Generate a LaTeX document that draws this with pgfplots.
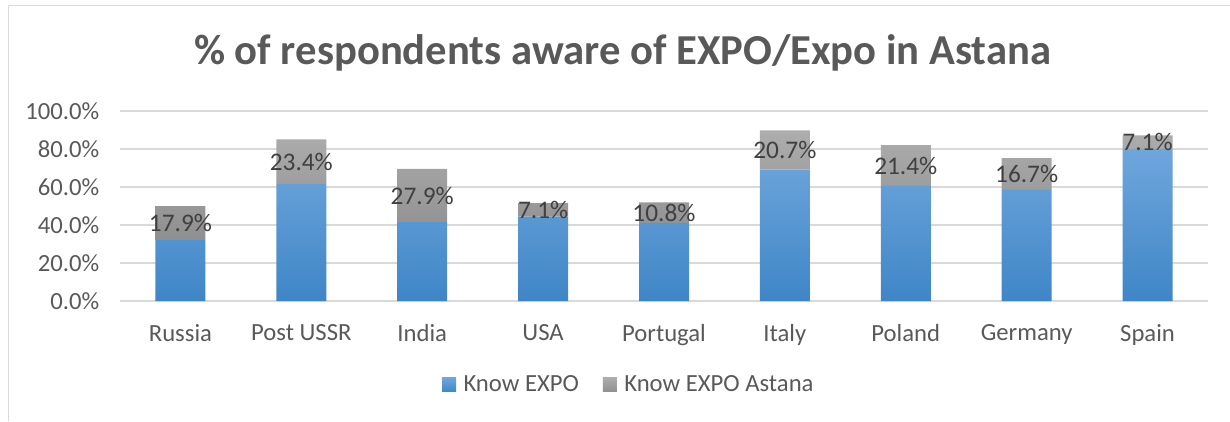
\documentclass[border=0pt]{standalone}
\usepackage{pgfplots}
\pgfplotsset{compat=1.18}
\usepackage{pgfplotstable}
\usepackage{fontspec}
\setmainfont{Carlito}
\definecolor{txt}{HTML}{595959}
\definecolor{gridc}{HTML}{D9D9D9}
\definecolor{bluetop}{HTML}{6FA6DC}
\definecolor{bluebot}{HTML}{3F86C7}
\definecolor{greytop}{HTML}{ADADAD}
\definecolor{greybot}{HTML}{8F8F8F}
\definecolor{lbl}{HTML}{404040}

\pgfplotstableread{
x blue grey
0 32.0 17.9
1 61.5 23.4
2 41.5 27.9
3 44.4 7.1
4 41.0 10.8
5 69.0 20.7
6 60.5 21.4
7 58.4 16.7
8 80.0 7.1
}\data

\pgfplotsset{common/.style={
  scale only axis, width=816pt, height=142.7pt,
  at={(90pt,90pt)}, anchor=south west,
  xmin=-0.5, xmax=8.5, ymin=0, ymax=100,
  /pgf/number format/assume math mode=true}}

\begin{document}
\begin{tikzpicture}
\useasboundingbox (0,0) rectangle (922.5pt,315.75pt);
\draw[gridc, line width=1.1pt] (6.4pt,0) -- (6.4pt,311.6pt) -- (922.5pt,311.6pt);
\node[font=\bfseries\fontsize{32}{38}\selectfont, text=txt] at (467pt,276pt) {\% of respondents aware of EXPO/Expo in Astana};
\begin{axis}[
  common,
  ybar stacked, bar width=37.5pt,
  axis line style={draw=none},
  tick style={draw=none},
  ymajorgrids, major grid style={gridc, line width=1.4pt},
  ytick={0,20,40,60,80,100},
  yticklabel={\pgfmathprintnumber[fixed,fixed zerofill,precision=1]{\tick}\%},
  xtick={0,1,2,3,4,5,6,7,8},
  xticklabels={Russia,Post USSR,India,USA,Portugal,Italy,Poland,Germany,Spain},
  ticklabel style={text=txt, font=\fontsize{18.5}{22}\selectfont},
  yticklabel style={xshift=-12pt},
  xticklabel style={yshift=-14pt},
  legend style={at={(0.468,-0.441)}, anchor=center, draw=none, fill=none,
    legend columns=2, font=\fontsize{18.5}{22}\selectfont, text=txt,
    /tikz/every even column/.append style={column sep=16pt}},
  legend image code/.code={\path[#1, draw=none] (0pt,-5.25pt) rectangle (10.5pt,5.25pt);
    \path (0pt,0pt) -- (14pt,0pt);},
]
\addplot[draw=none, top color=bluetop, bottom color=bluebot] table[x=x,y=blue]{\data};
\addlegendentry{Know EXPO}
\addplot[draw=none, top color=greytop, bottom color=greybot] table[x=x,y=grey]{\data};
\addlegendentry{Know EXPO Astana}
\end{axis}
\begin{axis}[common, hide axis]
\addplot[only marks, mark=none, point meta=explicit,
  nodes near coords={\pgfmathprintnumber[fixed,fixed zerofill,precision=1]{\pgfplotspointmeta}\%},
  every node near coord/.append style={font=\fontsize{19}{22}\selectfont, text=lbl, anchor=center}]
  table[x=x, y expr=\thisrow{blue}+\thisrow{grey}/2, meta=grey]{\data};
\end{axis}
\end{tikzpicture}
\end{document}
